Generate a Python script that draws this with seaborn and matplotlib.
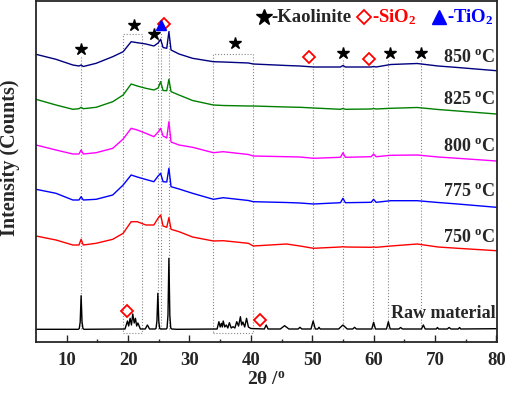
import numpy as np
import pandas as pd
import matplotlib
matplotlib.use('Agg')
import matplotlib.pyplot as plt
import matplotlib.patches as patches
import seaborn as sns

# 2theta grid shared by the calcined samples
theta_heat = [5, 8.25, 11, 12.0, 12.35, 12.7, 14.8, 17.5, 19.2, 20.5, 21.5, 22.9, 24.2, 24.9, 25.3, 25.7,
              26.3, 26.65, 27.0, 28.3, 30.5, 33.9, 35.5, 39.6, 40.4, 45.8, 48, 50.2, 54.6, 55.0, 55.4,
              59.6, 60.0, 60.4, 62.8, 67.1, 70.5, 73.7, 80]

# stacked intensities (offset already applied)
i_850 = [287.7, 282.7, 277, 276, 277, 275.5, 278.7, 285.3, 290.3, 300.3, 299.3, 298, 296, 299, 302.7, 294.5,
         293.7, 310.3, 292, 288, 283.7, 280.3, 280, 279, 278, 276.5, 276, 275, 275, 276.5, 275,
         275, 275.5, 275, 277.5, 278.5, 276, 274.5, 271.3]
i_825 = [242.7, 237, 232.7, 233.3, 234.7, 233.3, 234.7, 240.3, 247, 258, 256, 253.7, 252, 254, 260.3, 251.5,
         251.3, 262.7, 250.3, 247, 241.5, 237, 236.5, 236, 236, 235, 234.7, 234, 232.7, 233.5, 232.7,
         233, 233.5, 233, 233.7, 234.5, 232.5, 231, 228]
i_800 = [197, 192, 188, 188, 192, 188, 189.3, 193.7, 203, 213.7, 212, 208.7, 205.3, 210, 213.7, 206,
         204, 220.3, 200, 197, 194.7, 189.3, 190.3, 187.5, 186, 185.3, 185, 183.7, 184.7, 189.3, 184.7,
         185.3, 188, 185.3, 186.7, 187, 185, 183.7, 181]
i_775 = [152.7, 148.7, 142, 142, 145.3, 142, 142.7, 147, 157, 167, 165, 162.5, 160.3, 166, 168.7, 160.3,
         160, 173.7, 155.3, 153, 148.7, 142.7, 144.3, 141.5, 140.3, 139.5, 139, 138, 139.3, 143.7, 139.3,
         139.7, 142.7, 139.7, 141.3, 141.3, 139.5, 138, 134.7]
i_750 = [106, 102, 97, 97, 102.7, 97, 98.7, 102.7, 108.7, 120.3, 120.3, 117, 117, 124, 127, 116,
         114.7, 124.3, 112.7, 110.3, 105, 101, 101.3, 98.7, 96, 98, 96, 93.7, 95, 95.3, 95,
         94.7, 95, 94.7, 96, 98, 95, 93.7, 91.3]

# raw kaolin pattern
theta_raw = [5, 11.9, 12.05, 12.2, 12.35, 12.5, 12.65, 12.8, 19.5, 19.9, 20.1, 20.33, 20.55, 20.76, 21.0, 21.2,
             21.4, 21.6, 22.0, 22.8, 23.15, 23.5, 24.4, 24.55, 24.7, 24.85, 25.0, 25.15, 25.3, 26.2, 26.35,
             26.5, 26.65, 26.8, 26.95, 27.1, 28, 34.5, 34.8, 35.0, 35.2, 35.35, 35.5, 35.75, 36.0, 36.25,
             36.5, 36.8, 37.1, 37.4, 37.7, 38.0, 38.3, 38.5, 38.7, 39.0, 39.3, 39.6, 40.0, 42.2, 42.5,
             42.8, 44.8, 45.5, 46.2, 47.7, 48.0, 48.3, 49.8, 50.15, 50.5, 50.9, 51.1, 51.3, 54.3, 55.0,
             55.7, 56.6, 56.9, 57.2, 59.7, 60.0, 60.3, 62.1, 62.4, 62.7, 64.1, 64.4, 64.7, 67.8, 68.1,
             68.4, 70.2, 70.4, 70.6, 72.0, 72.3, 72.6, 73.8, 74.0, 74.2, 80]
i_raw = [12.7, 12.7, 13.5, 20, 46.3, 20, 13.5, 12.7, 13, 21, 16, 23.7, 17, 28, 19, 23.7,
         16, 19, 13, 13, 17, 13, 13, 13.5, 21, 48.7, 21, 13.5, 13, 13, 14,
         27, 83.7, 27, 14, 13, 12.7, 13, 20.3, 15, 18.7, 15, 21, 15, 17, 14,
         19.3, 14, 15.3, 14, 20.3, 16, 25.3, 17, 20, 15, 23.7, 15, 13.5, 13, 17,
         13, 13, 16.3, 13, 13, 14.7, 13, 13, 21, 13, 13, 14.7, 13, 13, 17,
         13, 13, 14.7, 13, 13, 19.7, 13, 13, 20.3, 13, 13, 14.5, 13, 13, 17,
         13, 13, 14.5, 13, 13, 14.5, 13, 13, 14.5, 13, 13.3]

samples = ['750 $^{\\rm o}$C', '775 $^{\\rm o}$C', '800 $^{\\rm o}$C', '825 $^{\\rm o}$C', '850 $^{\\rm o}$C']
label_y = [105, 150.3, 195.3, 243, 284]
colors = ['#ff0000', '#0000ff', '#ff00ff', '#008000', '#000080']

# phase markers
kaol_x = [12.3, 20.9, 24.3, 37.4, 55.0, 62.7, 67.7]
kaol_y = [292.7, 316.7, 308, 298.7, 289.3, 289.3, 289.3]
sio2_x = [25.9, 49.4, 59.3, 19.9, 41.5]
sio2_y = [318, 285.3, 282.7, 31.3, 21.7]
tio2_x = [25.4]
tio2_y = [317]

# guide lines and boxes
guide_x = [12.35, 24.85, 25.3, 26.65, 50.1, 55.0, 59.9, 62.3, 67.8]
guide_top = [286, 304, 310, 312, 280, 282, 278, 282, 282]
boxes = [(19.2, 22.2, 308), (33.9, 40.4, 288)]

sns.set_style('ticks')
plt.rcParams['font.family'] = ['Liberation Serif', 'DejaVu Serif']
plt.rcParams['font.weight'] = 'bold'
plt.rcParams['axes.labelweight'] = 'bold'
plt.rcParams['mathtext.fontset'] = 'custom'
plt.rcParams['mathtext.rm'] = 'Liberation Serif:bold'
plt.rcParams['mathtext.bf'] = 'Liberation Serif:bold'
plt.rcParams['mathtext.it'] = 'Liberation Serif:bold'

df = pd.concat([pd.DataFrame({'theta': theta_heat, 'intensity': v, 'sample': s})
                for v, s in zip([i_750, i_775, i_800, i_825, i_850], samples)])
df_raw = pd.DataFrame({'theta': theta_raw, 'intensity': i_raw})

fig = plt.figure(figsize=(5.05, 3.94), dpi=100)
ax = fig.add_axes([36 / 505, 1 - 342 / 394, 461 / 505, 341 / 394])

# dotted guides behind curves
ax.vlines(guide_x, 13, guide_top, colors='#888888', linestyles=':', linewidth=0.8, zorder=1)
for x0, x1, top in boxes:
    ax.add_patch(patches.Rectangle((x0, 9), x1 - x0, top - 9, fill=False,
                                   edgecolor='#888888', linestyle=':', linewidth=0.8, zorder=1))

sns.lineplot(data=df, x='theta', y='intensity', hue='sample', palette=colors,
             sort=False, estimator=None, linewidth=1.0, legend=False, ax=ax)
sns.lineplot(data=df_raw, x='theta', y='intensity', color='black',
             sort=False, estimator=None, linewidth=1.0, ax=ax)

ax.plot(kaol_x, kaol_y, '*', color='black', ms=9, ls='none')
ax.plot(sio2_x, sio2_y, 'D', mfc='none', mec='red', mew=1.3, ms=6, ls='none')
ax.plot(tio2_x, tio2_y, '^', color='blue', ms=7.5, ls='none')

for s, y in zip(samples, label_y):
    ax.text(79.8, y, s, ha='right', va='center', fontsize=13)
ax.text(79.8, 29, 'Raw material', ha='right', va='center', fontsize=13)

# phase key at top
ax.plot([42.2], [325], '*', color='black', ms=12)
ax.text(43.3, 325, '-Kaolinite', ha='left', va='center', fontsize=13.5)
ax.plot([58.5], [325], 'D', mfc='none', mec='red', mew=1.3, ms=7.5)
ax.text(59.7, 325, '-SiO$_{\\rm 2}$', ha='left', va='center', fontsize=13.5, color='red')
ax.plot([70.6], [325], '^', color='blue', ms=10)
ax.text(71.9, 325, '-TiO$_{\\rm 2}$', ha='left', va='center', fontsize=13.5, color='blue')

ax.set_xlim(5, 80.1)
ax.set_ylim(0, 341)
ax.set_xticks(range(10, 81, 10))
ax.set_xticks(range(15, 80, 10), minor=True)
ax.set_yticks([])
ax.tick_params(axis='x', which='major', direction='in', length=5, width=1, labelsize=13.5, pad=7)
ax.tick_params(axis='x', which='minor', direction='in', length=2.5, width=1)
for sp in ax.spines.values():
    sp.set_linewidth(1.3)
    sp.set_visible(True)

ax.set_xlabel('2\u03b8 /$^{\\rm o}$', fontsize=14, labelpad=2)
ax.set_ylabel('Intensity (Counts)', fontsize=14.5)
ax.yaxis.set_label_coords(-0.034, 0.54)

plt.savefig('out.png', dpi=100)
